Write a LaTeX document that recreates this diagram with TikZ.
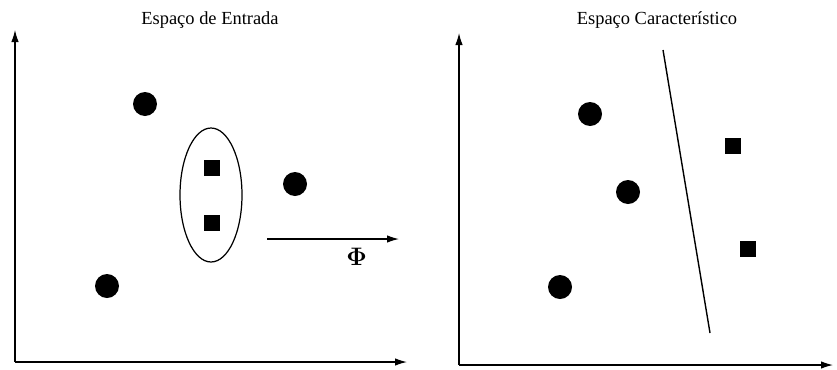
\documentclass[tikz,border=0pt]{standalone}
\usepackage{fontspec}
\setmainfont{Liberation Serif}
\usetikzlibrary{arrows.meta,positioning,shapes.geometric}

\begin{document}
\begin{tikzpicture}[
  x=0.02cm, y=-0.02cm,
  dot/.style={circle, fill=black, minimum size=4.8mm, inner sep=0pt},
  sq/.style={rectangle, fill=black, minimum size=3.2mm, inner sep=0pt},
  axis/.style={-{Latex[length=2.4mm,width=1.5mm]}, line width=0.7pt},
  title/.style={font=\fontsize{10.5}{12}\selectfont}
]
\useasboundingbox (0,0) rectangle (837,369);

% espaco de entrada
\coordinate (o1) at (15,362);
\coordinate (y1) at (15,30);
\coordinate (x1) at (407,362);
\draw[axis] (o1) -- (y1);
\draw[axis] (o1) -- (x1);
\node[title] (t1) at (210,20) {Espaço de Entrada};

\node[dot] (a1) at (145,104) {};
\node[dot] (a2) at (295,184) {};
\node[dot] (a3) at (107,286) {};
\node[draw, ellipse, line width=0.7pt, minimum width=1.24cm, minimum height=2.68cm] (grupo) at (211,195) {};
\node[sq] (b1) at (212,168) {};
\node[sq] (b2) at (212,223) {};

\coordinate (p0) at (267,239);
\coordinate (p1) at (399,239);
\draw[axis] (p0) -- node[pos=0.68, below=0.6mm, font=\Large\boldmath] {$\Phi$} (p1);

% espaco caracteristico
\coordinate (o2) at (459,365);
\coordinate (y2) at (459,33);
\coordinate (x2) at (833,365);
\draw[axis] (o2) -- (y2);
\draw[axis] (o2) -- (x2);
\node[title] (t2) at (657,20) {Espaço Característico};

\node[dot] (c1) at (590,114) {};
\node[dot] (c2) at (628,192) {};
\node[dot] (c3) at (560,287) {};
\node[sq] (d1) at (733,146) {};
\node[sq] (d2) at (748,249) {};

\coordinate (h0) at (663,50);
\coordinate (h1) at (710,333);
\draw[line width=0.8pt] (h0) -- (h1);
\end{tikzpicture}
\end{document}
